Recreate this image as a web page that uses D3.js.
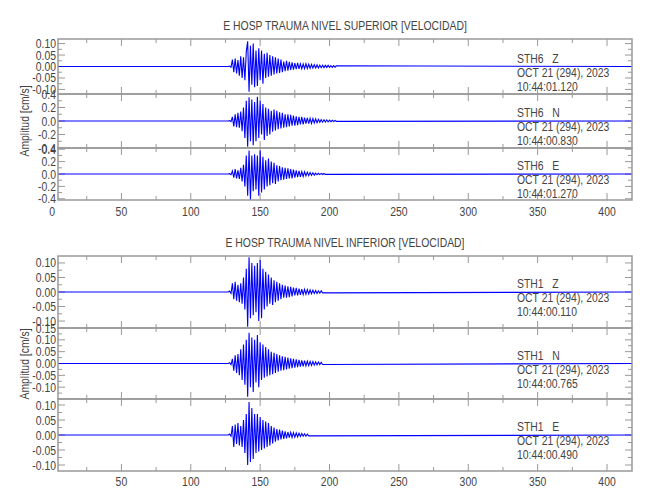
<!DOCTYPE html>
<html><head><meta charset="utf-8">
<script src="https://cdn.jsdelivr.net/npm/d3@7"></script>
<style>body{margin:0;background:#fff}text{font-family:"Liberation Sans","DejaVu Sans",sans-serif;fill:#444}</style>
</head><body><svg id="c" width="650" height="500"></svg>
<script>
const xTicksMajor=[0,50,100,150,200,250,300,350,400];
const titles=["E HOSP TRAUMA NIVEL SUPERIOR [VELOCIDAD]","E HOSP TRAUMA NIVEL INFERIOR [VELOCIDAD]"];
const stations=["STH6","STH6","STH6","STH1","STH1","STH1"];
const comps=["Z","N","E","Z","N","E"];
const dateLbl="OCT 21 (294), 2023";
const times=["10:44:01.120","10:44:00.830","10:44:01.270","10:44:00.110","10:44:00.765","10:44:00.490"];
const yMax=[0.12,0.4,0.42,0.124,0.15,0.12];
const yTicks=[[0.10,0.05,0,-0.05,-0.10],[0.4,0.2,0,-0.2,-0.4],[0.4,0.2,0,-0.2,-0.4],[0.10,0.05,0,-0.05,-0.10],[0.15,0.10,0.05,0,-0.05,-0.10],[0.10,0.05,0,-0.05,-0.10]];
const yFmt=[2,1,1,2,2,2];
const tStart=128;
const w0=[0.002,-0.003,0.03,-0.025,0.035,-0.03,0.028,-0.04,0.045,-0.05,0.04,-0.06,0.065,0.11,-0.11,0.09,-0.08,0.1,-0.09,0.07,-0.085,0.08,-0.06,0.07,-0.075,0.055,-0.05,0.06,-0.045,0.05,-0.04,0.045,-0.035,0.04,-0.03,0.035,-0.028,0.03,-0.025,0.022,-0.02,0.025,-0.018,0.02,-0.015,0.018,-0.014,0.015,-0.012,0.016,-0.01,0.012,-0.01,0.011,-0.009,0.012,-0.008,0.01,-0.008,0.009,-0.007,0.008,-0.006,0.007,-0.006,0.006,-0.005,0.006,-0.005,0.005,-0.004,0.005,-0.004,0.004,-0.004,0.004,-0.003,0.003];
const w1=[0.005,-0.01,0.06,-0.08,0.1,-0.09,0.12,-0.1,0.14,-0.15,0.2,-0.25,0.3,-0.38,0.35,-0.3,0.32,-0.36,0.28,-0.3,0.36,-0.25,0.3,-0.2,0.25,-0.28,0.2,-0.22,0.18,-0.2,0.15,-0.16,0.17,-0.14,0.15,-0.12,0.13,-0.11,0.12,-0.1,0.1,-0.09,0.1,-0.08,0.09,-0.07,0.08,-0.07,0.07,-0.06,0.06,-0.05,0.06,-0.05,0.05,-0.04,0.045,-0.04,0.04,-0.035,0.035,-0.03,0.03,-0.025,0.025,-0.02,0.02,-0.018,0.018,-0.015,0.015,-0.012,0.012,-0.01,0.01,-0.008,0.008,-0.006];
const w2=[0.005,-0.01,0.05,-0.06,0.08,-0.07,0.06,-0.08,0.1,-0.12,0.15,-0.2,0.3,-0.35,0.38,-0.42,0.3,-0.28,0.32,-0.25,0.3,-0.35,0.38,-0.3,0.28,-0.25,0.22,-0.2,0.25,-0.18,0.2,-0.15,0.18,-0.16,0.14,-0.12,0.13,-0.1,0.11,-0.09,0.1,-0.08,0.09,-0.07,0.08,-0.07,0.07,-0.06,0.06,-0.05,0.05,-0.045,0.04,-0.04,0.035,-0.03,0.03,-0.025,0.025,-0.02,0.02,-0.018,0.015,-0.012,0.012,-0.01,0.01,-0.008,0.008,-0.006];
const w3=[0.003,-0.005,0.03,-0.025,0.035,-0.03,0.025,-0.035,0.03,-0.04,0.05,-0.06,0.08,-0.12,0.12,-0.09,0.1,-0.08,0.09,-0.07,0.1,-0.1,0.11,-0.09,0.08,-0.06,0.07,-0.05,0.06,-0.04,0.05,-0.045,0.04,-0.035,0.035,-0.03,0.03,-0.025,0.025,-0.02,0.022,-0.02,0.02,-0.018,0.018,-0.015,0.015,-0.012,0.014,-0.012,0.012,-0.01,0.01,-0.009,0.009,-0.008,0.008,-0.007,0.007,-0.006,0.006,-0.005,0.005,-0.005,0.004,-0.004,0.004,-0.003];
const w4=[0.003,-0.005,0.02,-0.03,0.035,-0.04,0.04,-0.05,0.06,-0.07,0.08,-0.09,0.1,-0.14,0.13,-0.1,0.11,-0.12,0.1,-0.08,0.12,-0.1,0.09,-0.07,0.08,-0.06,0.07,-0.055,0.06,-0.05,0.05,-0.045,0.045,-0.04,0.04,-0.035,0.035,-0.03,0.03,-0.028,0.028,-0.025,0.025,-0.022,0.022,-0.02,0.02,-0.018,0.018,-0.015,0.015,-0.013,0.013,-0.012,0.012,-0.01,0.01,-0.009,0.009,-0.008,0.008,-0.007,0.007,-0.006,0.006,-0.005,0.005,-0.004];
const w5=[0.003,-0.004,0.03,-0.04,0.035,-0.03,0.04,-0.035,0.03,-0.04,0.05,-0.06,0.07,-0.1,0.11,-0.09,0.09,-0.08,0.07,-0.06,0.07,-0.055,0.06,-0.05,0.05,-0.045,0.045,-0.04,0.04,-0.035,0.03,-0.028,0.025,-0.022,0.02,-0.018,0.018,-0.015,0.015,-0.013,0.012,-0.011,0.01,-0.009,0.009,-0.008,0.008,-0.007,0.007,-0.006,0.006,-0.005,0.005,-0.004,0.004,-0.004,0.003,-0.003];
const waves=[w0,w1,w2,w3,w4,w5];
const xDomain=[4.3,418];

const svg=d3.select("#c");
const axisCol="#999";
const x=d3.scaleLinear().domain(xDomain).range([58,632]);
const panels=[[39,94],[94,148],[148,200],[256,328],[328,399],[399,471]];
const line=d3.line().x(d=>x(d[0])).y(d=>d[1]);
function txt(px,py,s,anchor,rot){
  const g=svg.append("g").attr("transform",`translate(${px},${py})`+(rot?` rotate(${rot})`:"")+" scale(0.8,1)");
  return g.append("text").attr("text-anchor",anchor||"start").attr("font-size",13).attr("xml:space","preserve").text(s);
}
panels.forEach((p,i)=>{
  const y=d3.scaleLinear().domain([-yMax[i],yMax[i]]).range([p[1],p[0]]);
  const g=svg.append("g");
  const minor=d3.range(25,xDomain[1],50);
  [[xTicksMajor.filter(v=>v>=xDomain[0]),7],[minor,4]].forEach(([vals,len])=>{
    vals.forEach(v=>{
      g.append("line").attr("x1",x(v)).attr("x2",x(v)).attr("y1",p[0]).attr("y2",p[0]+len).attr("stroke",axisCol);
      g.append("line").attr("x1",x(v)).attr("x2",x(v)).attr("y1",p[1]).attr("y2",p[1]-len).attr("stroke",axisCol);
    });
  });
  const step=yTicks[i][0]-yTicks[i][1];
  const mins=d3.range(-yMax[i]-1e-9,yMax[i],step/2).map(v=>Math.round(v/(step/2))*(step/2)).filter(v=>Math.abs(v)<yMax[i]);
  Array.from(new Set(mins.map(v=>+v.toFixed(4)))).forEach(v=>{
    const major=yTicks[i].some(t=>Math.abs(t-v)<1e-6); const len=major?7:4;
    g.append("line").attr("x1",58).attr("x2",58+len).attr("y1",y(v)).attr("y2",y(v)).attr("stroke",axisCol);
    g.append("line").attr("x1",632).attr("x2",632-len).attr("y1",y(v)).attr("y2",y(v)).attr("stroke",axisCol);
  });
  yTicks[i].forEach(v=>txt(56,y(v)+4.5,v.toFixed(yFmt[i]),"end"));
  const pts=[[xDomain[0],y(0)],[tStart-1,y(0)]];
  waves[i].forEach((v,k)=>pts.push([tStart+k,y(v)]));
  pts.push([xDomain[1],y(0)]);
  g.append("path").attr("d",line(pts)).attr("fill","none").attr("stroke","#0000ff").attr("stroke-width",1.1);
  g.append("rect").attr("x",58).attr("y",p[0]).attr("width",574).attr("height",p[1]-p[0]).attr("fill","none").attr("stroke",axisCol).attr("stroke-width",1.5);
  const tx=517, ty=y(0);
  txt(tx,ty-4,stations[i]+"   "+comps[i]);
  txt(tx,ty+10,dateLbl);
  txt(tx,ty+24,times[i]);
});
[[0,30],[1,247]].forEach(([k,yy])=>txt(345,yy,titles[k],"middle"));
[121,364].forEach(cy=>txt(29,cy,"Amplitud [cm/s]","middle",-90));
xTicksMajor.forEach(v=>txt(x(v),216,String(v),"middle"));
xTicksMajor.filter(v=>v>0).forEach(v=>txt(x(v),486,String(v),"middle"));
</script></body></html>
